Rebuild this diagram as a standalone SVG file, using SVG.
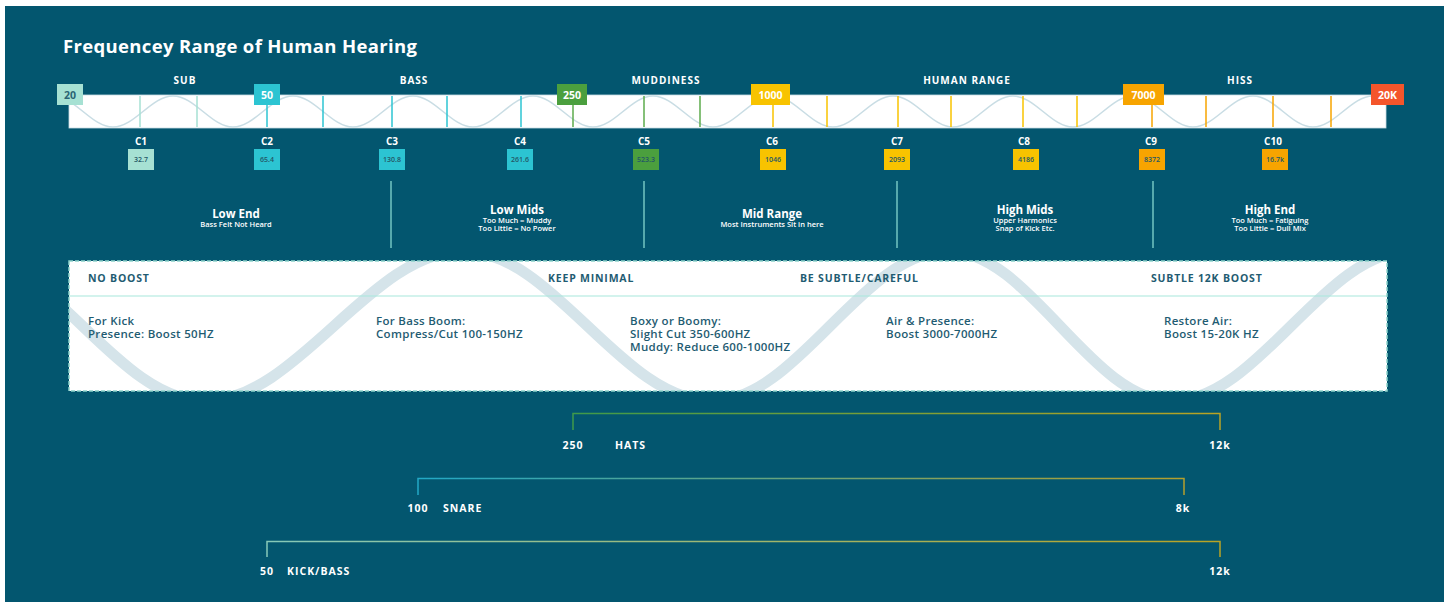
<svg xmlns="http://www.w3.org/2000/svg" width="1449" height="602" viewBox="0 0 1449 602">
<defs>
<style>
.t{font-family:"Open Sans","Liberation Sans",sans-serif;}
.title{font-size:18.5px;font-weight:700;fill:#ffffff;}
.zone{font-size:10px;font-weight:700;fill:#ffffff;letter-spacing:1px;text-anchor:middle;}
.tag{font-size:10.5px;font-weight:700;fill:#ffffff;text-anchor:middle;}
.tagd{font-size:10.5px;font-weight:700;fill:#2a6474;text-anchor:middle;}
.cl{font-size:10px;font-weight:700;fill:#ffffff;text-anchor:middle;}
.cv{font-size:7px;font-weight:600;fill:#235766;text-anchor:middle;}
.sh{font-size:11.5px;font-weight:700;fill:#ffffff;text-anchor:middle;}
.ss{font-size:7.5px;font-weight:600;fill:#ffffff;text-anchor:middle;}
.bh{font-size:10.5px;font-weight:700;fill:#1f5c72;letter-spacing:0.8px;}
.bt{font-size:11.5px;font-weight:600;fill:#1f5c72;letter-spacing:0.3px;}
.bl{font-size:10.5px;font-weight:700;fill:#ffffff;letter-spacing:1px;}
.sep{stroke:#74c6c2;stroke-width:1.5;}
.lt{fill:#a6e1d3;} .cy{fill:#2cc4d2;} .gr{fill:#4b9f3e;} .ye{fill:#f8c300;} .or{fill:#f7a400;} .rd{fill:#f4552b;}
.vlt{stroke:#a6e1d3;stroke-width:1.5;} .vcy{stroke:#2cc4d2;stroke-width:1.5;} .vgr{stroke:#5cab4c;stroke-width:1.5;} .vye{stroke:#f8c300;stroke-width:1.5;} .vor{stroke:#f7a400;stroke-width:1.5;}
.br{fill:none;stroke-width:1.5;}
</style>
<clipPath id="barClip"><rect x="69" y="95" width="1317" height="33"/></clipPath>
<clipPath id="boxClip"><rect x="69" y="261" width="1318" height="130"/></clipPath>
<linearGradient id="gHats" x1="0" x2="1" y1="0" y2="0"><stop offset="0" stop-color="#3f9a4a"/><stop offset="1" stop-color="#b9a324"/></linearGradient>
<linearGradient id="gSnare" x1="0" x2="1" y1="0" y2="0"><stop offset="0" stop-color="#22a8c6"/><stop offset="1" stop-color="#b49f2c"/></linearGradient>
<linearGradient id="gKick" x1="0" x2="1" y1="0" y2="0"><stop offset="0" stop-color="#86c9b9"/><stop offset="1" stop-color="#b9a324"/></linearGradient>
</defs>

<rect x="0" y="0" width="1449" height="602" fill="#ffffff"/>
<rect x="5" y="6" width="1439" height="596" fill="#03566f"/>

<text class="t title" x="63" y="53" textLength="354" lengthAdjust="spacing">Frequencey Range of Human Hearing</text>

<g id="zone-labels">
<text class="t zone" x="185" y="84">SUB</text>
<text class="t zone" x="414" y="84">BASS</text>
<text class="t zone" x="666" y="84">MUDDINESS</text>
<text class="t zone" x="967" y="84">HUMAN RANGE</text>
<text class="t zone" x="1240" y="84">HISS</text>
</g>

<g id="frequency-bar">
<rect x="69" y="95" width="1317" height="33" fill="#ffffff" stroke="#c9dde4" stroke-width="0.8"/>
<path clip-path="url(#barClip)" fill="none" stroke="#c9dde4" stroke-width="1.6" d="M53,96 C74.85,96 91.15,127 113,127 S151.15,96 173,96 S211.15,127 233,127 S271.15,96 293,96 S331.15,127 353,127 S391.15,96 413,96 S451.15,127 473,127 S511.15,96 533,96 S571.15,127 593,127 S631.15,96 653,96 S691.15,127 713,127 S751.15,96 773,96 S811.15,127 833,127 S871.15,96 893,96 S931.15,127 953,127 S991.15,96 1013,96 S1051.15,127 1073,127 S1111.15,96 1133,96 S1171.15,127 1193,127 S1231.15,96 1253,96 S1291.15,127 1313,127 S1351.15,96 1373,96 S1411.15,127 1433,127"/>
<line class="vlt" x1="140" y1="96" x2="140" y2="127"/>
<line class="vlt" x1="197" y1="96" x2="197" y2="127"/>
<line class="vcy" x1="267" y1="96" x2="267" y2="127"/>
<line class="vcy" x1="323" y1="96" x2="323" y2="127"/>
<line class="vcy" x1="392" y1="96" x2="392" y2="127"/>
<line class="vcy" x1="447" y1="96" x2="447" y2="127"/>
<line class="vcy" x1="521" y1="96" x2="521" y2="127"/>
<line class="vgr" x1="573" y1="96" x2="573" y2="127"/>
<line class="vgr" x1="644" y1="96" x2="644" y2="127"/>
<line class="vgr" x1="700" y1="96" x2="700" y2="127"/>
<line class="vye" x1="773" y1="96" x2="773" y2="127"/>
<line class="vye" x1="827" y1="96" x2="827" y2="127"/>
<line class="vye" x1="898" y1="96" x2="898" y2="127"/>
<line class="vye" x1="951" y1="96" x2="951" y2="127"/>
<line class="vye" x1="1023" y1="96" x2="1023" y2="127"/>
<line class="vye" x1="1077" y1="96" x2="1077" y2="127"/>
<line class="vor" x1="1152" y1="96" x2="1152" y2="127"/>
<line class="vor" x1="1206" y1="96" x2="1206" y2="127"/>
<line class="vor" x1="1273" y1="96" x2="1273" y2="127"/>
<line class="vor" x1="1331" y1="96" x2="1331" y2="127"/>
</g>

<g id="tag-20"><rect class="lt" x="57" y="84" width="26" height="21"/><text class="t tagd" x="70" y="98.5">20</text></g>
<g id="tag-50"><rect class="cy" x="254" y="84" width="26" height="21"/><text class="t tag" x="267" y="98.5">50</text></g>
<g id="tag-250"><rect class="gr" x="557" y="84" width="30" height="21"/><text class="t tag" x="572" y="98.5">250</text></g>
<g id="tag-1000"><rect class="ye" x="751" y="84" width="39" height="21"/><text class="t tag" x="770.5" y="98.5">1000</text></g>
<g id="tag-7000"><rect class="or" x="1123" y="84" width="41" height="21"/><text class="t tag" x="1143.5" y="98.5">7000</text></g>
<g id="tag-20k"><rect class="rd" x="1371" y="84" width="33" height="21"/><text class="t tag" x="1387.5" y="98.5">20K</text></g>

<g id="note-c1"><text class="t cl" x="141" y="145">C1</text><rect class="lt" x="128" y="149" width="26" height="21"/><text class="t cv" x="141" y="162">32.7</text></g>
<g id="note-c2"><text class="t cl" x="267" y="145">C2</text><rect class="cy" x="254" y="149" width="26" height="21"/><text class="t cv" x="267" y="162">65.4</text></g>
<g id="note-c3"><text class="t cl" x="392" y="145">C3</text><rect class="cy" x="379" y="149" width="26" height="21"/><text class="t cv" x="392" y="162">130.8</text></g>
<g id="note-c4"><text class="t cl" x="520" y="145">C4</text><rect class="cy" x="507" y="149" width="26" height="21"/><text class="t cv" x="520" y="162">261.6</text></g>
<g id="note-c5"><text class="t cl" x="644" y="145">C5</text><rect class="gr" x="633" y="149" width="26" height="21"/><text class="t cv" x="646" y="162">523.3</text></g>
<g id="note-c6"><text class="t cl" x="772" y="145">C6</text><rect class="ye" x="760" y="149" width="26" height="21"/><text class="t cv" x="773" y="162">1046</text></g>
<g id="note-c7"><text class="t cl" x="897" y="145">C7</text><rect class="ye" x="884" y="149" width="26" height="21"/><text class="t cv" x="897" y="162">2093</text></g>
<g id="note-c8"><text class="t cl" x="1024" y="145">C8</text><rect class="ye" x="1013" y="149" width="26" height="21"/><text class="t cv" x="1026" y="162">4186</text></g>
<g id="note-c9"><text class="t cl" x="1151" y="145">C9</text><rect class="or" x="1139" y="149" width="26" height="21"/><text class="t cv" x="1152" y="162">8372</text></g>
<g id="note-c10"><text class="t cl" x="1273" y="145">C10</text><rect class="or" x="1262" y="149" width="26" height="21"/><text class="t cv" x="1275" y="162">16.7k</text></g>

<g id="separators">
<line class="sep" x1="391" y1="181" x2="391" y2="248"/>
<line class="sep" x1="644" y1="181" x2="644" y2="248"/>
<line class="sep" x1="897" y1="181" x2="897" y2="248"/>
<line class="sep" x1="1153" y1="181" x2="1153" y2="248"/>
</g>

<g id="sec-low-end"><text class="t sh" x="236" y="218">Low End</text><text class="t ss" x="236" y="227">Bass Felt Not Heard</text></g>
<g id="sec-low-mids"><text class="t sh" x="517" y="214">Low Mids</text><text class="t ss" x="517" y="222.5">Too Much = Muddy</text><text class="t ss" x="517" y="231">Too Little = No Power</text></g>
<g id="sec-mid-range"><text class="t sh" x="772" y="218">Mid Range</text><text class="t ss" x="772" y="227">Most Instruments Sit in here</text></g>
<g id="sec-high-mids"><text class="t sh" x="1025" y="214">High Mids</text><text class="t ss" x="1025" y="222.5">Upper Harmonics</text><text class="t ss" x="1025" y="231">Snap of Kick Etc.</text></g>
<g id="sec-high-end"><text class="t sh" x="1270" y="214">High End</text><text class="t ss" x="1270" y="222.5">Too Much = Fatiguing</text><text class="t ss" x="1270" y="231">Too Little = Dull Mix</text></g>

<g id="eq-box">
<rect x="69" y="261" width="1318" height="130" fill="#ffffff"/>
<path clip-path="url(#boxClip)" fill="none" stroke="#d5e4ea" stroke-width="11" d="M-40,251 C49.2,251 115.8,401 205,401 C297.3,401 370.7,251 463,251 C553.7,251 621.3,401 712,401 C798,401 862,251 948,251 C1029.6,251 1090.4,401 1172,401 C1258.7,401 1323.3,251 1410,251 C1496.7,251 1561.3,401 1648,401"/>
<line x1="69" y1="296" x2="1387" y2="296" stroke="#a8e8dc" stroke-width="1.2"/>
<rect x="69" y="261" width="1318" height="130" fill="none" stroke="#8fd3cc" stroke-width="1.5" stroke-dasharray="4 2"/>
<text class="t bh" x="88" y="282">NO BOOST</text>
<text class="t bh" x="548" y="282">KEEP MINIMAL</text>
<text class="t bh" x="800" y="282">BE SUBTLE/CAREFUL</text>
<text class="t bh" x="1151" y="282">SUBTLE 12K BOOST</text>
<text class="t bt" x="88" y="325">For Kick</text>
<text class="t bt" x="88" y="338">Presence: Boost 50HZ</text>
<text class="t bt" x="376" y="325">For Bass Boom:</text>
<text class="t bt" x="376" y="338">Compress/Cut 100-150HZ</text>
<text class="t bt" x="630" y="325">Boxy or Boomy:</text>
<text class="t bt" x="630" y="338">Slight Cut 350-600HZ</text>
<text class="t bt" x="630" y="351">Muddy: Reduce 600-1000HZ</text>
<text class="t bt" x="886" y="325">Air &amp; Presence:</text>
<text class="t bt" x="886" y="338">Boost 3000-7000HZ</text>
<text class="t bt" x="1164" y="325">Restore Air:</text>
<text class="t bt" x="1164" y="338">Boost 15-20K HZ</text>
</g>

<g id="connectors">
<path class="br" stroke="url(#gHats)" d="M573,430 V413.5 H1220 V430"/>
<path class="br" stroke="url(#gSnare)" d="M418,495 V478.5 H1184 V495"/>
<path class="br" stroke="url(#gKick)" d="M267,557 V541.5 H1220 V557"/>
</g>

<g id="range-hats"><text class="t bl" x="573" y="449" text-anchor="middle">250</text><text class="t bl" x="615" y="449">HATS</text><text class="t bl" x="1220" y="449" text-anchor="middle">12k</text></g>
<g id="range-snare"><text class="t bl" x="418" y="512" text-anchor="middle">100</text><text class="t bl" x="443" y="512">SNARE</text><text class="t bl" x="1183" y="512" text-anchor="middle">8k</text></g>
<g id="range-kick"><text class="t bl" x="267" y="575" text-anchor="middle">50</text><text class="t bl" x="287" y="575">KICK/BASS</text><text class="t bl" x="1220" y="575" text-anchor="middle">12k</text></g>
</svg>
